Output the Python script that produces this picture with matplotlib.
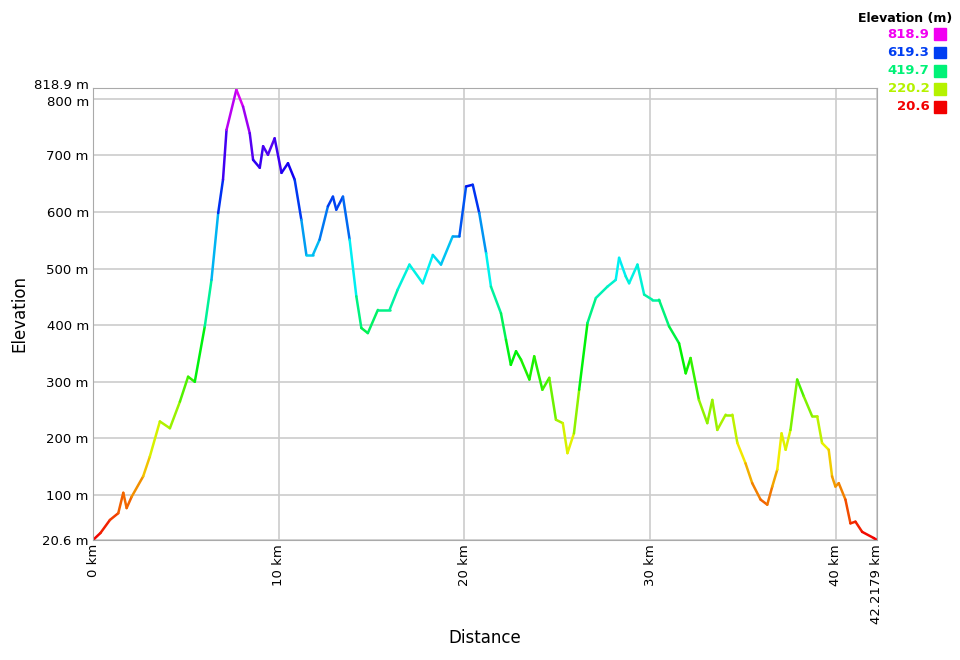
import numpy as np
import matplotlib
matplotlib.use("Agg")
import matplotlib.pyplot as plt
from matplotlib.collections import LineCollection
from matplotlib.colors import ListedColormap, Normalize, hsv_to_rgb
from matplotlib.transforms import ScaledTranslation

dist_km = [0, 0.4, 0.91, 1.36, 1.63, 1.81, 2.08, 2.7, 3.06, 3.6, 4.14, 4.68, 5.12, 5.48, 6.02, 6.38, 6.74,
           7.0, 7.19, 7.72, 8.08, 8.44, 8.62, 8.98, 9.16, 9.42, 9.78, 10.15, 10.5, 10.86, 11.22, 11.49,
           11.84, 12.2, 12.65, 12.92, 13.1, 13.46, 13.82, 14.18, 14.45, 14.8, 15.34, 15.97, 16.41, 17.04,
           17.76, 18.3, 18.74, 19.37, 19.73, 20.09, 20.45, 20.8, 21.17, 21.43, 21.97, 22.24, 22.5, 22.78,
           23.05, 23.5, 23.76, 24.2, 24.57, 24.93, 25.3, 25.55, 25.9, 26.18, 26.63, 27.08, 27.7, 28.15,
           28.33, 28.69, 28.87, 29.32, 29.68, 30.12, 30.48, 31.02, 31.56, 31.92, 32.18, 32.63, 33.08,
           33.35, 33.62, 34.07, 34.43, 34.7, 35.14, 35.5, 35.95, 36.31, 36.58, 36.85, 37.08, 37.3, 37.56,
           37.92, 38.28, 38.73, 39.0, 39.26, 39.62, 39.8, 39.98, 40.16, 40.52, 40.79, 41.06, 41.42, 42.05,
           42.2179]
elev_m = [20.6, 33, 56, 68, 104, 77, 97, 133, 168, 230, 218, 265, 309, 300, 398, 480, 598,
          657, 745, 816, 786, 739, 692, 678, 716, 701, 730, 669, 686, 657, 586, 524,
          524, 551, 610, 627, 604, 627, 551, 451, 395, 386, 427, 427, 463, 507,
          474, 524, 507, 557, 557, 645, 648, 598, 527, 468, 421, 374, 330, 354,
          339, 304, 345, 286, 307, 233, 227, 174, 209, 286, 404, 448, 468, 480,
          519, 486, 474, 507, 454, 445, 445, 398, 368, 315, 342, 268, 227,
          268, 215, 242, 242, 192, 156, 121, 92, 83, 115, 145, 209, 180, 215,
          304, 274, 239, 239, 192, 180, 133, 115, 121, 92, 50, 53, 35, 24,
          20.6]
ytick_vals = [20.6, 100, 200, 300, 400, 500, 600, 700, 800, 818.9]
ytick_labels = ["20.6 m", "100 m", "200 m", "300 m", "400 m", "500 m", "600 m", "700 m", "800 m", "818.9 m"]
xtick_vals = [0, 10, 20, 30, 40, 42.2179]
xtick_labels = ["0 km", "10 km", "20 km", "30 km", "40 km", "42.2179 km"]
legend_vals = [818.9, 619.3, 419.7, 220.2, 20.6]

hues = np.linspace(0, 300 / 360, 256)
cmap = ListedColormap(hsv_to_rgb(np.stack([hues, np.ones(256), np.ones(256) * 0.95], axis=1)))
norm = Normalize(20.6, 818.9)

fig = plt.figure(figsize=(9.6, 6.6), dpi=100)
ax = fig.add_axes([0.0969, 0.1818, 0.8166, 0.6849])

x = np.array(dist_km); y = np.array(elev_m)
pts = np.array([x, y]).T.reshape(-1, 1, 2)
segs = np.concatenate([pts[:-1], pts[1:]], axis=1)
lc = LineCollection(segs, cmap=cmap, norm=norm, linewidth=1.8, capstyle='round', joinstyle='round')
lc.set_array((y[:-1] + y[1:]) / 2)
ax.add_collection(lc)

ax.set_xlim(0, 42.2179)
ax.set_ylim(20.6, 818.9)
ax.set_yticks(ytick_vals, ytick_labels, fontsize=9.5)
ax.set_xticks(xtick_vals, xtick_labels, rotation=90, fontsize=9.5)
ax.tick_params(length=0, pad=3)
yl = ax.get_yticklabels()
yl[-1].set_transform(yl[-1].get_transform() + ScaledTranslation(0, 3 / 72, fig.dpi_scale_trans))
yl[-2].set_transform(yl[-2].get_transform() + ScaledTranslation(0, -2 / 72, fig.dpi_scale_trans))
ax.grid(True, color='#cccccc', linewidth=1.2)
for s in ax.spines.values():
    s.set_color('#aaaaaa')
ax.set_ylabel("Elevation", fontsize=12)
ax.set_xlabel("Distance", fontsize=12)

fig.text(0.992, 0.982, "Elevation (m)", ha='right', va='top', fontsize=9, fontweight='bold')
for i, v in enumerate(legend_vals):
    yy = 0.948 - i * 0.0275
    c = cmap(norm(v))
    fig.text(0.968, yy, f"{v}", ha='right', va='center', fontsize=9.5, fontweight='bold', color=c)
    fig.patches.append(plt.Rectangle((0.973, yy - 0.009), 0.012, 0.018, transform=fig.transFigure, color=c))

fig.savefig("out.png", dpi=100)
